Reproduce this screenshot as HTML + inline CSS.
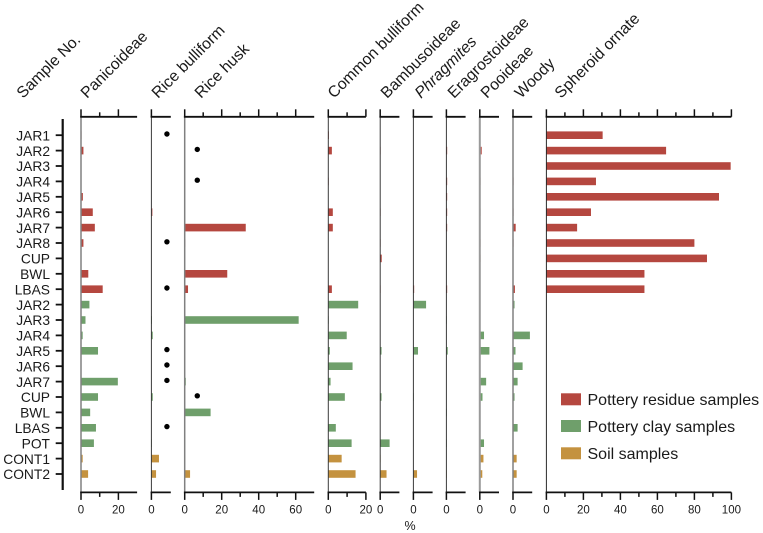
<!DOCTYPE html>
<html lang="en">
<head>
<meta charset="utf-8">
<title>Phytolith percentages by sample</title>
<style>
html,body{margin:0;padding:0;background:#fff;}
svg{display:block;font-family:"Liberation Sans",Arial,sans-serif;fill:#1a1a1a;}
</style>
</head>
<body>
<svg id="chart" xmlns="http://www.w3.org/2000/svg" width="763" height="533" viewBox="0 0 763 533">
<text transform="translate(23,99) rotate(-45)" font-size="15.8">Sample No.</text>
<text x="410" y="530" font-size="12.5" text-anchor="middle">%</text>
<g>
<rect x="561" y="393.3" width="20" height="12" fill="#b5473f"/>
<text x="587.5" y="405" font-size="16">Pottery residue samples</text>
<rect x="561" y="420" width="20" height="12" fill="#6f9f6b"/>
<text x="587.5" y="432" font-size="16">Pottery clay samples</text>
<rect x="561" y="447.3" width="20" height="12" fill="#c4923f"/>
<text x="587.5" y="459" font-size="16">Soil samples</text>
</g>
</svg>
<script>
const samples = ["JAR1","JAR2","JAR3","JAR4","JAR5","JAR6","JAR7","JAR8","CUP","BWL","LBAS","JAR2","JAR3","JAR4","JAR5","JAR6","JAR7","CUP","BWL","LBAS","POT","CONT1","CONT2"];
const groups = ["residue","residue","residue","residue","residue","residue","residue","residue","residue","residue","residue","clay","clay","clay","clay","clay","clay","clay","clay","clay","clay","soil","soil"];

const panicoideae = [0.3,1.3,0,0,1,6.3,7.4,1.3,0,3.9,11.6,4.5,2.4,0.9,9.1,0,19.7,9.1,4.9,8,6.9,0.9,3.8];
const riceBulliform = [0,0,0,0,0,0.5,0,0,0,0,0,0,0.3,0.7,0,0,0,0.7,0,0,0.2,3.9,2.4];
const riceHusk = [0,0,0,0,0,0,33,0.3,0,23,1.8,0,61.6,0,0,0,0.6,0,14,0,0.2,0.2,2.9];
const commonBulliform = [0.3,1.9,0,0.2,0,2.4,2.4,0,0,0,1.9,15.9,0.2,9.8,0.8,12.9,1.2,8.8,0.1,4,12.4,7.1,14.5];
const bambusoideae = [0,0.2,0,0,0,0.2,0,0.2,0.8,0,0.2,0,0,0,0.7,0,0.1,0.7,0,0,4.9,0.2,3.3];
const phragmites = [0,0,0,0,0,0,0,0,0,0,0.4,6.6,0,0,2.4,0,0,0.2,0,0,0.1,0,1.9];
const eragrostoideae = [0,0.4,0,0.4,0.4,0.4,0.4,0,0,0,0.4,0,0.2,0,0.7,0,0,0,0.2,0,0.2,0,0.2];
const pooideae = [0,1,0,0.4,0,0.4,0,0.4,0.4,0,0,0.3,0,2.2,5,0,3.3,1.4,0,0,2.2,1.9,1.3];
const woody = [0,0,0,0.3,0,0.3,1.4,0.3,0,0,1,0.8,0.2,8.8,1.3,5,2.4,0.8,0.2,2.4,0.2,1.9,1.9];
const spheroidOrnate = [30.4,64.7,99.6,26.8,93.3,24.1,16.6,80,86.8,53,53,0,0,0,0,0,0,0,0,0,0,0,0];

const riceBulliformDots = [8,null,null,null,null,null,null,8,null,null,8,null,null,null,8,8,8,null,null,8,null,null,null];
const riceHuskDots = [null,6.8,null,6.8,null,null,null,null,null,null,null,null,null,null,null,null,null,6.8,null,null,null,null,null];

const panicoideaeTicks = [0,20];
const panicoideaeMinor = [10];
const riceBulliformTicks = [0];
const riceHuskTicks = [0,20,40,60];
const riceHuskMinor = [10,30,50];
const commonBulliformTicks = [0,20];
const commonBulliformMinor = [10];
const zeroTicks = [0];
const spheroidTicks = [0,20,40,60,80,100];
const spheroidMinor = [10,30,50,70,90];

const panels = [
 {key:"panicoideae",title:"Panicoideae",values:panicoideae,ticks:panicoideaeTicks,minor:panicoideaeMinor,dots:null,x0:81,unit:1.87,max:30,lx:87,spine:"#808080",sw:1.5},
 {key:"rice-bulliform",title:"Rice bulliform",values:riceBulliform,ticks:riceBulliformTicks,minor:[],dots:riceBulliformDots,x0:151.4,unit:1.94,max:10,lx:158,spine:"#3a3a3a",sw:1},
 {key:"rice-husk",title:"Rice husk",values:riceHusk,ticks:riceHuskTicks,minor:riceHuskMinor,dots:riceHuskDots,x0:184.7,unit:1.85,max:70,lx:201,spine:"#808080",sw:1.5},
 {key:"common-bulliform",title:"Common bulliform",values:commonBulliform,ticks:commonBulliformTicks,minor:commonBulliformMinor,dots:null,x0:328.3,unit:1.88,max:20,lx:334,spine:"#3a3a3a",sw:1},
 {key:"bambusoideae",title:"Bambusoideae",values:bambusoideae,ticks:zeroTicks,minor:[],dots:null,x0:380.2,unit:1.92,max:10,lx:387,spine:"#3a3a3a",sw:1},
 {key:"phragmites",title:"Phragmites",values:phragmites,ticks:zeroTicks,minor:[],dots:null,x0:413.4,unit:1.92,max:10,lx:421,spine:"#3a3a3a",sw:1,italic:true},
 {key:"eragrostoideae",title:"Eragrostoideae",values:eragrostoideae,ticks:zeroTicks,minor:[],dots:null,x0:446.4,unit:1.92,max:10,lx:454,spine:"#3a3a3a",sw:1},
 {key:"pooideae",title:"Pooideae",values:pooideae,ticks:zeroTicks,minor:[],dots:null,x0:479.8,unit:1.92,max:10,lx:487,spine:"#9a9a9a",sw:2},
 {key:"woody",title:"Woody",values:woody,ticks:zeroTicks,minor:[],dots:null,x0:513,unit:1.92,max:10,lx:521,spine:"#808080",sw:1.5},
 {key:"spheroid-ornate",title:"Spheroid ornate",values:spheroidOrnate,ticks:spheroidTicks,minor:spheroidMinor,dots:null,x0:546.4,unit:1.85,max:100,lx:561,spine:"#2a2a2a",sw:1}
];

const colors = {residue:"#b5473f",clay:"#6f9f6b",soil:"#c4923f"};
const svg = document.getElementById("chart");
const NS = "http://www.w3.org/2000/svg";
const rowY = i => 135.2 + i * 15.4;
const topY = 116.8, botY = 492.4;

function make(tag, attrs, parent){
  const el = document.createElementNS(NS, tag);
  for (const k in attrs) el.setAttribute(k, attrs[k]);
  (parent || svg).appendChild(el);
  return el;
}

const yAxis = make("line",{x1:62.7,x2:62.7,y1:119,y2:490,stroke:"#111","stroke-width":2.2});



samples.forEach((s,i)=>{
  const t = make("line",{x1:55.7,x2:62.7,y1:rowY(i),y2:rowY(i),stroke:"#111","stroke-width":1.8});
  
  
  const l = make("text",{x:50,y:rowY(i)+5.2,"font-size":13.8,"text-anchor":"end"});
  
  
  l.textContent = s;
});

panels.forEach(p=>{
  const g = make("g",{});
  
  
  const sx = v => p.x0 + v * p.unit;

  const title = make("text",{transform:"translate("+p.lx+",99) rotate(-45)","font-size":15.8},g);
  
  
  if (p.italic) title.setAttribute("font-style","italic");
  title.textContent = p.title;

  p.values.forEach((v,i)=>{
    if (v <= 0) return;
    const b = make("rect",{x:sx(0),y:rowY(i)-3.8,width:v*p.unit,height:7.6,fill:colors[groups[i]]},g);
    
    
  });

  const spine = make("line",{x1:p.x0,x2:p.x0,y1:topY,y2:botY,stroke:p.spine,"stroke-width":p.sw},g);
  
  

  [[topY,-1],[botY,1]].forEach(([y,dir])=>{
    const ax = make("line",{x1:p.x0-0.8,x2:sx(p.max),y1:y,y2:y,stroke:"#111","stroke-width":1.8},g);
    
    
    p.ticks.forEach(v=>{
      const t = make("line",{x1:sx(v),x2:sx(v),y1:y,y2:y+dir*7.5,stroke:"#111","stroke-width":1.5},g);
      
      
    });
    p.minor.forEach(v=>{
      const t = make("line",{x1:sx(v),x2:sx(v),y1:y,y2:y+dir*4.5,stroke:"#111","stroke-width":1.5},g);
      
      
    });
  });

  p.ticks.forEach(v=>{
    const l = make("text",{x:sx(v),y:513.3,"font-size":11.5,"text-anchor":"middle"},g);
    
    
    l.textContent = v;
  });

  if (p.dots) p.dots.forEach((v,i)=>{
    if (v === null) return;
    const d = make("circle",{cx:sx(v),cy:rowY(i)-1.2,r:2.7,fill:"#000"},g);
    
    
  });
});
</script>
</body>
</html>
